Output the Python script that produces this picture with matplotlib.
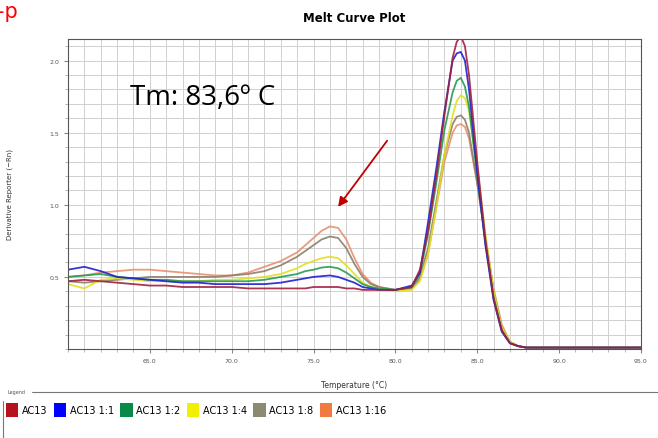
import matplotlib.pyplot as plt
from matplotlib.patches import Patch
from matplotlib.lines import Line2D

# temperature points (deg C)
temps = [60, 61, 62, 63, 64, 65, 66, 67, 68, 69, 70, 71,
         72, 72.5, 73, 73.5, 74, 74.5, 75, 75.5, 76, 76.5, 77, 77.5, 78, 78.5, 79, 80, 81,
         81.5, 82, 82.5, 83, 83.5, 83.75, 84, 84.25, 84.5, 85, 85.5, 86, 86.5, 87, 87.5,
         88, 89, 90, 91, 92, 93, 94, 95]

tail = [0.01, 0.01, 0.01, 0.01, 0.01, 0.01, 0.01, 0.01]

ac13 = [0.47, 0.48, 0.47, 0.46, 0.45, 0.44, 0.44, 0.43, 0.43, 0.43, 0.43, 0.42,
        0.42, 0.42, 0.42, 0.42, 0.42, 0.42, 0.43, 0.43, 0.43, 0.43, 0.42, 0.42, 0.41, 0.41, 0.41, 0.41, 0.43,
        0.55, 0.82, 1.20, 1.62, 2.02, 2.13, 2.17, 2.10, 1.90, 1.30, 0.76, 0.35, 0.13, 0.04, 0.02] + tail
ac13_1 = [0.55, 0.57, 0.54, 0.50, 0.49, 0.48, 0.47, 0.46, 0.46, 0.45, 0.45, 0.45,
          0.45, 0.455, 0.46, 0.47, 0.48, 0.49, 0.50, 0.505, 0.51, 0.50, 0.48, 0.46, 0.43, 0.42, 0.41, 0.41, 0.44,
          0.53, 0.88, 1.25, 1.65, 2.00, 2.05, 2.06, 2.00, 1.80, 1.22, 0.72, 0.34, 0.12, 0.04, 0.02] + tail
ac13_2 = [0.50, 0.51, 0.52, 0.50, 0.49, 0.48, 0.48, 0.47, 0.47, 0.47, 0.47, 0.47,
          0.48, 0.49, 0.50, 0.51, 0.52, 0.54, 0.55, 0.565, 0.57, 0.56, 0.53, 0.49, 0.45, 0.43, 0.42, 0.41, 0.43,
          0.52, 0.80, 1.15, 1.52, 1.78, 1.86, 1.88, 1.82, 1.68, 1.20, 0.74, 0.36, 0.13, 0.04, 0.02] + tail
ac13_4 = [0.45, 0.42, 0.48, 0.49, 0.48, 0.47, 0.47, 0.47, 0.47, 0.48, 0.48, 0.49,
          0.50, 0.51, 0.52, 0.54, 0.56, 0.59, 0.61, 0.63, 0.64, 0.63, 0.58, 0.52, 0.46, 0.43, 0.42, 0.40, 0.41,
          0.47, 0.66, 0.98, 1.35, 1.62, 1.72, 1.76, 1.74, 1.65, 1.25, 0.80, 0.40, 0.15, 0.05, 0.02] + tail
ac13_8 = [0.47, 0.46, 0.47, 0.48, 0.49, 0.50, 0.50, 0.50, 0.50, 0.50, 0.51, 0.52,
          0.54, 0.56, 0.58, 0.61, 0.64, 0.68, 0.72, 0.76, 0.78, 0.77, 0.70, 0.59, 0.50, 0.45, 0.43, 0.41, 0.42,
          0.50, 0.70, 1.02, 1.35, 1.56, 1.61, 1.62, 1.59, 1.50, 1.15, 0.76, 0.40, 0.15, 0.05, 0.02] + tail
ac13_16 = [0.50, 0.51, 0.53, 0.54, 0.55, 0.55, 0.54, 0.53, 0.52, 0.51, 0.51, 0.53,
           0.57, 0.59, 0.61, 0.64, 0.67, 0.72, 0.77, 0.82, 0.85, 0.84, 0.76, 0.63, 0.52, 0.46, 0.43, 0.41, 0.42,
           0.48, 0.66, 0.98, 1.30, 1.50, 1.55, 1.56, 1.54, 1.46, 1.15, 0.78, 0.42, 0.17, 0.05, 0.02] + tail

labels = ['AC13', 'AC13 1:1', 'AC13 1:2', 'AC13 1:4', 'AC13 1:8', 'AC13 1:16']
series = [ac13, ac13_1, ac13_2, ac13_4, ac13_8, ac13_16]
line_colors = ['#a02040', '#2020d0', '#2a9a50', '#e0e020', '#8f7f6a', '#e89070']
swatch_colors = ['#b5121b', '#0000ff', '#0a8a4a', '#f0f000', '#8c8a70', '#f07a40']

fig = plt.figure(figsize=(6.58, 4.39), dpi=100)
ax = fig.add_axes([0.1033, 0.2027, 0.8707, 0.7063])

# draw the most dilute first so the concentrated ones sit on top
for vals, col in reversed(list(zip(series, line_colors))):
    ax.plot(temps, vals, color=col, lw=1.3, alpha=0.9)

ax.set_xlim(60, 95)
ax.set_ylim(0, 2.15)
ax.set_xticks([65, 70, 75, 80, 85, 90, 95])
ax.set_xticks(range(60, 96), minor=True)
ax.set_yticks([0.5, 1.0, 1.5, 2.0])
ax.set_yticks([i / 10 for i in range(0, 22)], minor=True)
ax.set_xticklabels(['65.0', '70.0', '75.0', '80.0', '85.0', '90.0', '95.0'])
ax.tick_params(labelsize=4.5, labelcolor='#555555', colors='#888888', length=3)
ax.tick_params(which='minor', length=2, colors='#aaaaaa')
ax.grid(which='both', color='#d0d0d0', lw=0.7)
ax.set_axisbelow(True)
for s in ax.spines.values():
    s.set_color('#555555')
    s.set_linewidth(0.8)

ax.set_title('Melt Curve Plot', fontsize=8.5, fontweight='bold', pad=13)
ax.set_xlabel('Temperature (°C)', fontsize=5.5, color='#333333', labelpad=12)
ax.set_ylabel('Derivative Reporter (\u2212Rn)', fontsize=5, color='#333333', labelpad=26)

# annotation and arrow pointing at the secondary peak
ax.text(63.8, 1.75, 'Tm: 83,6\u00ba C', fontsize=20, family='Open Sans', va='center')
ax.annotate('', xy=(76.4, 0.97), xytext=(79.6, 1.46),
            arrowprops=dict(arrowstyle='-|>', color='#c00000', lw=1.3, mutation_scale=14))

# clipped red text at the top left
fig.text(-0.004, 0.995, '-p', color='red', fontsize=15, va='top', ha='left')

# legend strip at the bottom
fig.add_artist(Line2D([0.004, 1.0], [0.105, 0.105], color='#777777', lw=0.8))
fig.add_artist(Line2D([0.004, 0.004], [0.0, 0.105], color='#777777', lw=0.8))
fig.text(0.012, 0.105, 'Legend', fontsize=3.5, color='#555555', va='center',
         backgroundcolor='white')
handles = [Patch(facecolor=c, edgecolor='none') for c in swatch_colors]
fig.legend(handles, labels, loc='upper left', bbox_to_anchor=(0.0, 0.092), ncol=6,
           frameon=False, fontsize=7, handlelength=1.3, handleheight=1.7,
           handletextpad=0.35, columnspacing=0.65, borderaxespad=0.2)

fig.savefig('out.png', dpi=100)
